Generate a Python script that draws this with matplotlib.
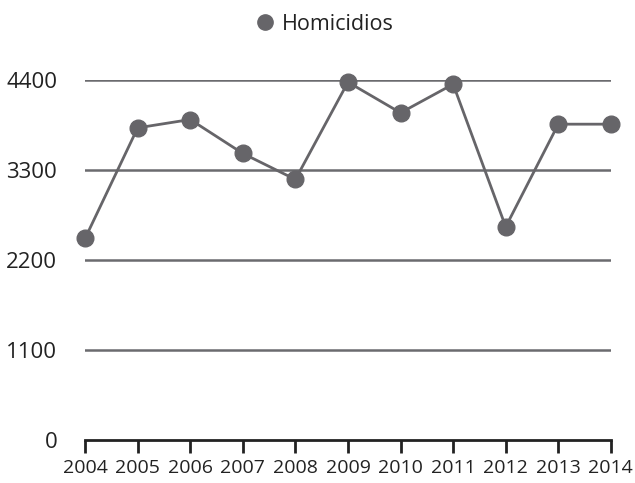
import matplotlib.pyplot as plt
from matplotlib.lines import Line2D

years = [2004, 2005, 2006, 2007, 2008, 2009, 2010, 2011, 2012, 2013, 2014]
homicidios = [2465, 3817, 3919, 3504, 3186, 4376, 4001, 4351, 2607, 3862, 3862]
yticks = [0, 1100, 2200, 3300, 4400]

plt.rcParams['font.family'] = ['Open Sans', 'DejaVu Sans']

fig = plt.figure(figsize=(6.35, 4.83), dpi=100)
ax = fig.add_axes([0.134, 0.089, 0.828, 0.745])

lineColor = "#666569"
for t in yticks[1:]:
    ax.axhline(t, color="#6b6b6e", lw=1.8, zorder=1)

ax.plot(years, homicidios, color=lineColor, lw=2.0, marker="o", markersize=12,
        clip_on=False, zorder=3)

ax.set_xlim(years[0], years[-1])
ax.set_ylim(0, 4400)
ax.set_xticks(years)
ax.set_xticklabels([str(y) for y in years], fontsize=14, color="#222222")
ax.set_yticks(yticks)
ax.set_yticklabels([str(t) for t in yticks], fontsize=16, color="#222222")

for s in ["top", "right", "left"]:
    ax.spines[s].set_visible(False)
ax.spines["bottom"].set_color("#222222")
ax.spines["bottom"].set_linewidth(2)
ax.tick_params(axis="x", direction="out", length=9, width=2, color="#222222", pad=5)
ax.tick_params(axis="y", length=0, pad=20)

handle = Line2D([], [], color=lineColor, marker="o", markersize=11, lw=0)
fig.legend([handle], ["Homicidios"], loc="upper center", bbox_to_anchor=(0.51, 1.012),
           frameon=False, fontsize=15.5, handletextpad=0.3, handlelength=1.0,
           labelcolor="#222222")

fig.savefig("out.png", dpi=100)
